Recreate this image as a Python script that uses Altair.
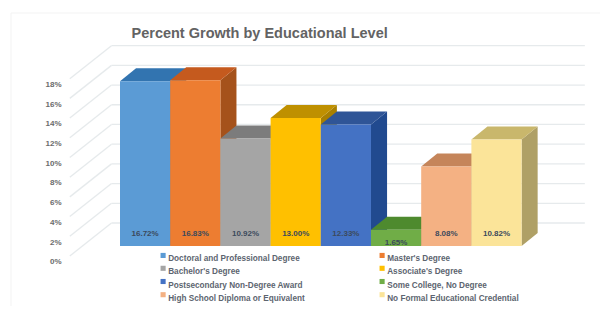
import altair as alt
import pandas as pd

categories = ["Doctoral and Professional Degree", "Master's Degree", "Bachelor's Degree", "Associate's Degree",
              "Postsecondary Non-Degree Award", "Some College, No Degree",
              "High School Diploma or Equivalent", "No Formal Educational Credential"]
values = [16.72, 16.83, 10.92, 13.00, 12.33, 1.65, 8.08, 10.82]
ticks = [0, 2, 4, 6, 8, 10, 12, 14, 16, 18]
fronts = ["#5B9BD5", "#ED7D31", "#A5A5A5", "#FFC000", "#4472C4", "#70AD47", "#F4B183", "#FBE499"]
tops = ["#3274B0", "#C55A1E", "#7C7C7C", "#BF9000", "#2F5597", "#4E8A2E", "#C5855A", "#C9B76C"]
sides = ["#2F6DA6", "#A5521B", "#6E6E6E", "#A98000", "#214A8F", "#3F7A25", "#AD7248", "#AFA066"]
legend_order = [0, 2, 4, 6, 1, 3, 5, 7]   # the legend fills column by column

FONT = "Liberation Sans"
DX, DY = 0.32, 1.32              # bar depth, in bar widths and in percent
X_DOM = [-1.036, 9.562]
Y_DOM = [-3.046, 22.94]
x_s = alt.Scale(domain=X_DOM, nice=False, zero=False)
y_s = alt.Scale(domain=Y_DOM, nice=False, zero=False)
X = alt.X("x:Q", scale=x_s, axis=None)
Y = alt.Y("y:Q", scale=y_s, axis=None)
Y2 = alt.Y2("y2:Q")

# value axis (sits on the front plane, lower than the bars' floor)
axis_df = pd.DataFrame({"v": ticks})
axis_layer = alt.Chart(axis_df).mark_point(opacity=0).encode(
    x=alt.value(0),
    y=alt.Y("v:Q", scale=alt.Scale(domain=[Y_DOM[0] + 1.6, Y_DOM[1] + 1.6], nice=False, zero=False),
            axis=alt.Axis(values=ticks, labelExpr="datum.value + '%'", domain=False, ticks=False, grid=False,
                          title=None, labelFont=FONT, labelFontSize=8, labelFontWeight="bold",
                          labelColor="#6b6b6b", labelPadding=7)),
)

# faint frame of the picture
frame_df = pd.DataFrame({"k": [0]})
frame_left = alt.Chart(frame_df).mark_rule(color="#F3F3F3", strokeWidth=1).encode(
    x=alt.value(-57), y=alt.value(-7), y2=alt.value(302))
frame_top = alt.Chart(frame_df).mark_rule(color="#F3F3F3", strokeWidth=1).encode(
    x=alt.value(-57), x2=alt.value(547), y=alt.value(-7))

# walls
WALL_SHIFT, DIAG_SHIFT = 2.335, -1.015
XD0, XD1, XEND = -1.0, -0.17, 9.26
grid = pd.DataFrame([{"x": XD1, "x2": XEND, "y": t + WALL_SHIFT} for t in ticks])
wall = alt.Chart(grid).mark_rule(color="#E6EAEC", strokeWidth=1.3).encode(x=X, x2="x2:Q", y=Y)
diag = pd.DataFrame([r for t in ticks for r in ({"t": t, "x": XD0, "y": t + DIAG_SHIFT}, {"t": t, "x": XD1, "y": t + WALL_SHIFT})])
floor = alt.Chart(diag).mark_line(color="#E6EAEC", strokeWidth=1.3).encode(x=X, y=Y, detail="t:N")

layers = [frame_left, frame_top, wall, floor]
legend = alt.Legend(title=None, orient="none", legendX=91, legendY=231, columns=2, columnPadding=73, rowPadding=1.2,
                    symbolType="square", symbolSize=26, symbolStrokeWidth=0, labelFont=FONT, labelFontSize=8.2,
                    labelFontWeight="bold", labelColor="#5d6570", labelOffset=1, labelLimit=220, labelBaseline="top")
color_scale = alt.Scale(domain=[categories[k] for k in legend_order], range=[fronts[k] for k in legend_order])
for i, (c, v) in enumerate(zip(categories, values)):
    side = pd.DataFrame([{"x": i + 1, "y": v, "y2": 0}, {"x": i + 1 + DX, "y": v + DY, "y2": DY}])
    top = pd.DataFrame([{"x": i, "y": v, "y2": v}, {"x": i + DX, "y": v + DY, "y2": v},
                        {"x": i + 1, "y": v + DY, "y2": v}, {"x": i + 1 + DX, "y": v + DY, "y2": v + DY}])
    front = pd.DataFrame([{"x": i, "x2": i + 1, "y": v, "y2": 0, "cat": c}])
    layers.append(alt.Chart(side).mark_area(color=sides[i]).encode(x=X, y=Y, y2=Y2))
    layers.append(alt.Chart(top).mark_area(color=tops[i]).encode(x=X, y=Y, y2=Y2))
    layers.append(alt.Chart(front).mark_rect().encode(
        x=X, x2="x2:Q", y=Y, y2=Y2,
        color=alt.Color("cat:N", scale=color_scale, legend=legend)))

labels = pd.DataFrame({"x": [i + 0.5 for i in range(len(values))],
                       "y": [1.2 if v > 5 else 0.3 for v in values],
                       "t": [f"{v:.2f}%" for v in values]})
layers.append(alt.Chart(labels).mark_text(font=FONT, fontSize=8, fontWeight="bold", color="#3c4a5c").encode(
    x=X, y=Y, text="t:N"))

main = alt.layer(*layers)
chart = alt.layer(axis_layer, main).resolve_scale(y="independent").properties(
    width=532, height=256,
    padding={"left": 60, "top": 12, "right": 0, "bottom": 30},
    autosize=alt.AutoSizeParams(type="none"),
    title=alt.TitleParams("Percent Growth by Educational Level", anchor="start", dx=121, offset=-29,
                          font=FONT, fontSize=14.5, fontWeight="bold", color="#636363"),
).configure_view(stroke=None)

chart.save("out.html", embed_options={"renderer": "svg", "actions": False})
